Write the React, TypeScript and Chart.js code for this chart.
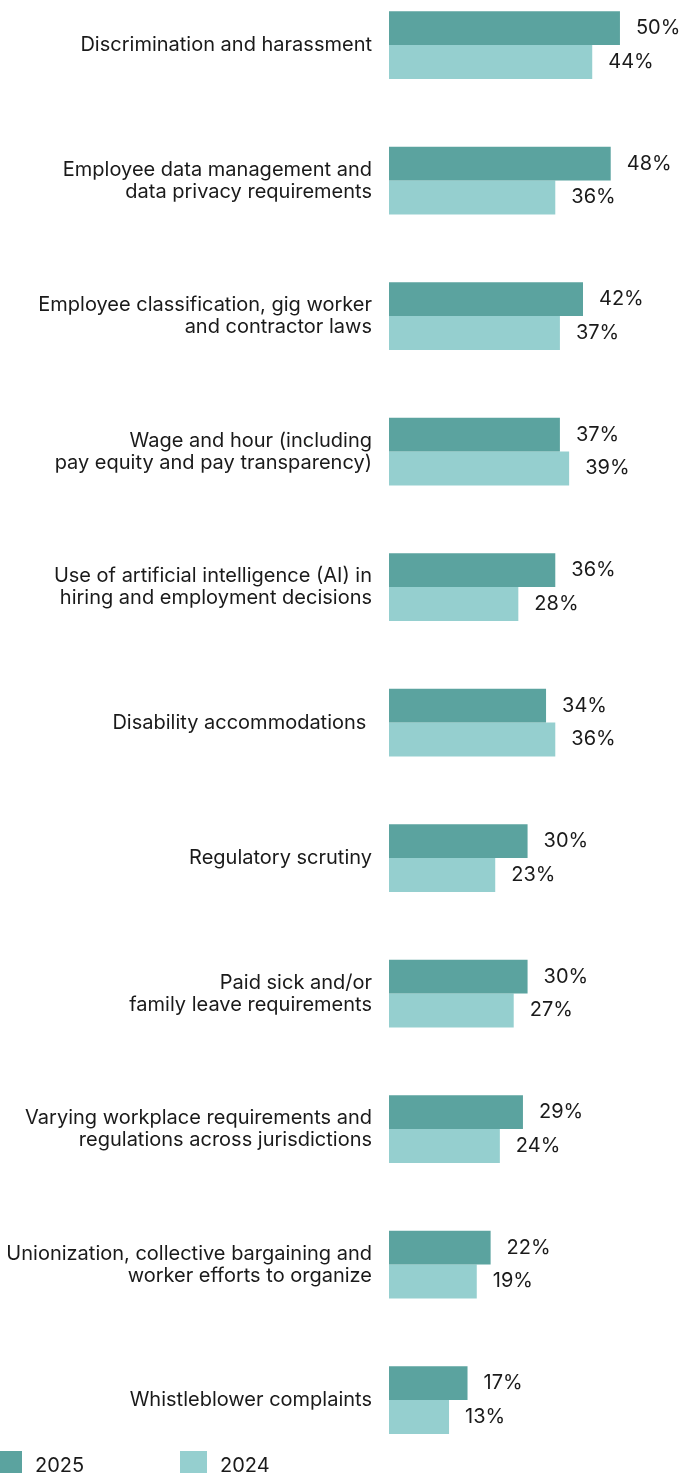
import React, { useEffect, useRef } from "react";
import { Chart, registerables } from "chart.js";

Chart.register(...registerables);

const categories: (string | string[])[] = [
  "Discrimination and harassment",
  ["Employee data management and", "data privacy requirements"],
  ["Employee classification, gig worker", "and contractor laws"],
  ["Wage and hour (including", "pay equity and pay transparency)"],
  ["Use of artificial intelligence (AI) in", "hiring and employment decisions"],
  "Disability accommodations ",
  "Regulatory scrutiny",
  ["Paid sick and/or", "family leave requirements"],
  ["Varying workplace requirements and", "regulations across jurisdictions"],
  ["Unionization, collective bargaining and", "worker efforts to organize"],
  "Whistleblower complaints",
];

const values2025 = [50, 48, 42, 37, 36, 34, 30, 30, 29, 22, 17];
const values2024 = [44, 36, 37, 39, 28, 36, 23, 27, 24, 19, 13];
const seriesNames = ["2025", "2024"];

const DARK = "#5ba39f";
const LIGHT = "#95cfcf";
const TEXT = "#1a1a1a";
const FONT = "Inter, 'Noto Sans', sans-serif";

const valueLabels = {
  id: "valueLabels",
  afterDatasetsDraw(chart: any) {
    const ctx = chart.ctx;
    ctx.save();
    ctx.font = `20px ${FONT}`;
    ctx.fillStyle = TEXT;
    ctx.textAlign = "left";
    ctx.textBaseline = "middle";
    chart.data.datasets.forEach((ds: any, di: number) => {
      const meta = chart.getDatasetMeta(di);
      meta.data.forEach((el: any, i: number) => {
        ctx.fillText(`${ds.data[i]}%`, el.x + 16, el.y);
      });
    });
    ctx.restore();
  },
};

export default function App() {
  const ref = useRef<HTMLCanvasElement | null>(null);

  useEffect(() => {
    if (!ref.current) return;
    const chart = new Chart(ref.current, {
      type: "bar",
      data: {
        labels: categories as any,
        datasets: [
          {
            label: seriesNames[0],
            data: values2025,
            backgroundColor: DARK,
            barPercentage: 1,
            categoryPercentage: 0.5,
            clip: false as any,
          },
          {
            label: seriesNames[1],
            data: values2024,
            backgroundColor: LIGHT,
            barPercentage: 1,
            categoryPercentage: 0.5,
            clip: false as any,
          },
        ],
      },
      options: {
        indexAxis: "y",
        responsive: false,
        animation: false,
        layout: { padding: { top: 45, bottom: 73, left: 0, right: 0 } },
        plugins: { legend: { display: false }, tooltip: { enabled: false } },
        scales: {
          x: { display: false, min: 0, max: 63 },
          y: {
            type: "category",
            offset: false,
            grid: { display: false, drawTicks: false },
            border: { display: false },
            ticks: {
              padding: 17,
              autoSkip: false,
              color: TEXT,
              font: { family: FONT, size: 20, lineHeight: 1.1 },
            },
            afterFit: (s: any) => {
              s.width = 389;
            },
          },
        },
      },
      plugins: [valueLabels],
    });
    return () => chart.destroy();
  }, []);

  const legendText: React.CSSProperties = {
    position: "absolute",
    top: 1454,
    fontFamily: FONT,
    fontSize: 20,
    lineHeight: "22px",
    color: TEXT,
    whiteSpace: "nowrap",
  };

  return (
    <div style={{ position: "absolute", left: 0, top: 0, width: 680, height: 1473, overflow: "hidden", background: "#fff" }}>
      <canvas ref={ref} width={680} height={1473} style={{ display: "block", width: 680, height: 1473 }} />
      <div style={{ position: "absolute", left: -5, top: 1451, width: 27, height: 27, background: DARK }} />
      <div style={{ ...legendText, left: 35 }}>{seriesNames[0]}</div>
      <div style={{ position: "absolute", left: 180, top: 1451, width: 27, height: 27, background: LIGHT }} />
      <div style={{ ...legendText, left: 220 }}>{seriesNames[1]}</div>
    </div>
  );
}
